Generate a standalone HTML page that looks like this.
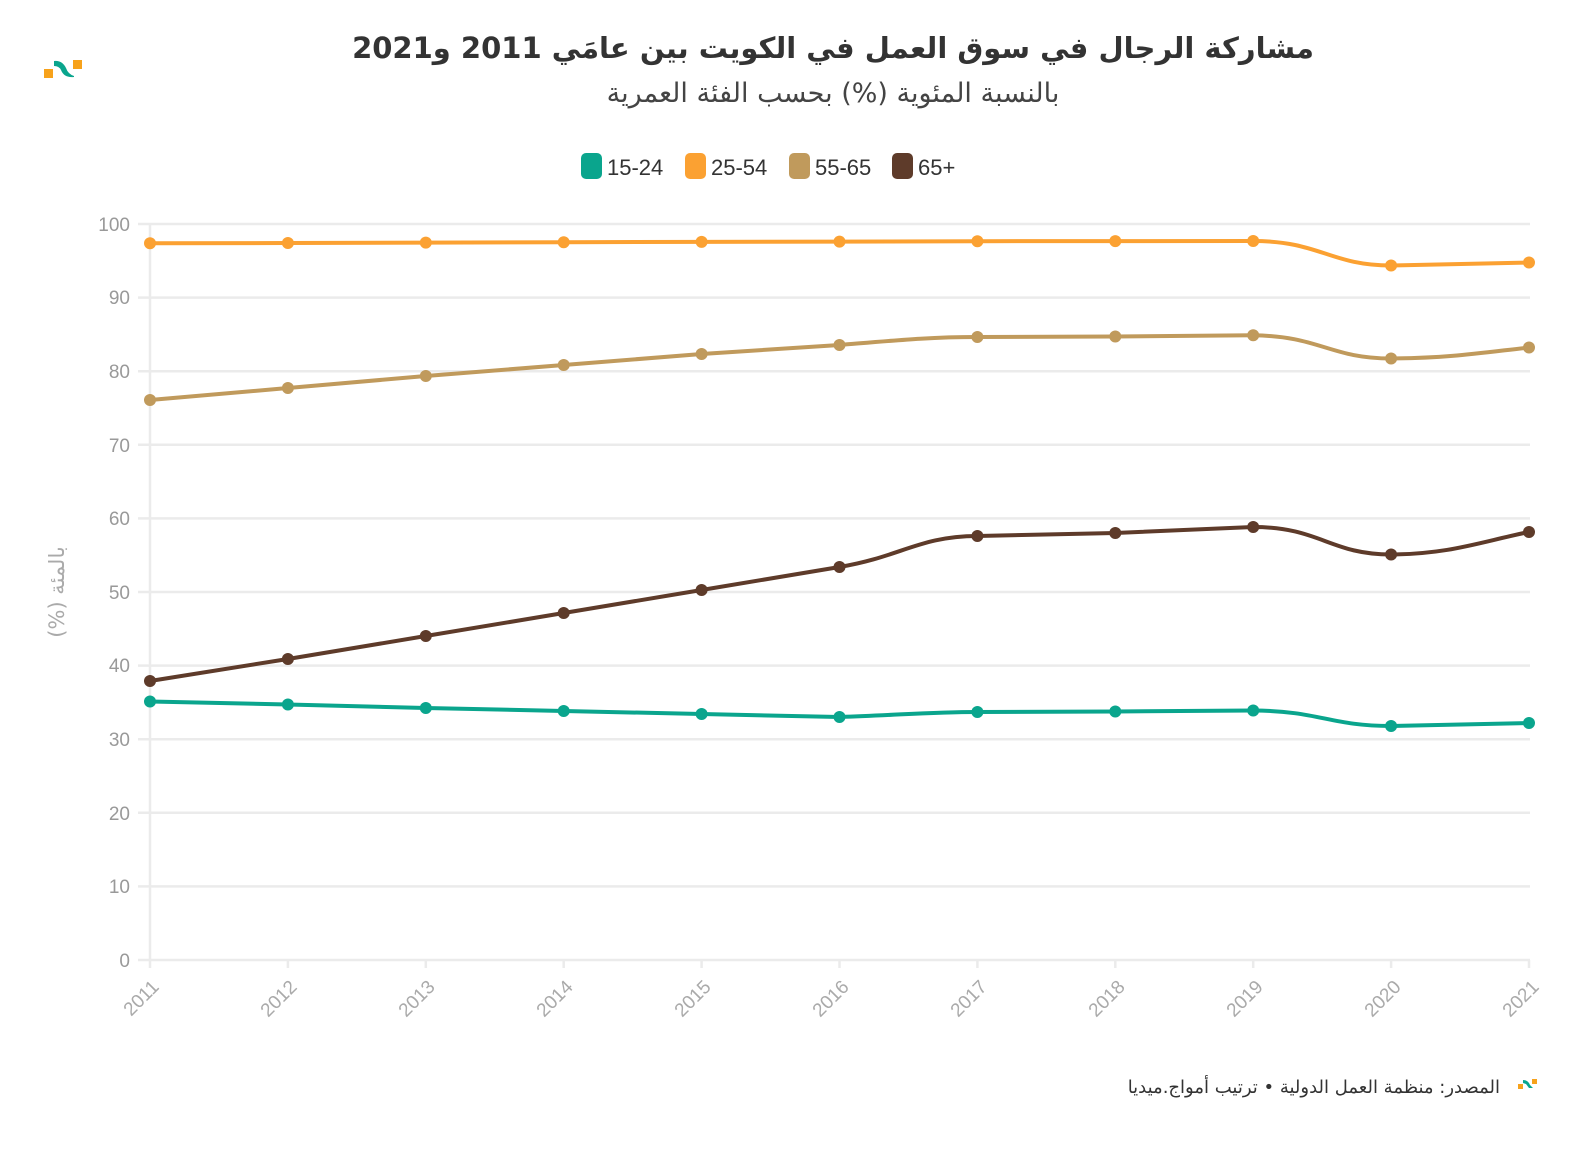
<!DOCTYPE html>
<html><head><meta charset="utf-8"><style>
body{margin:0;background:#fff;}
svg{display:block;font-family:"Liberation Sans","DejaVu Sans",sans-serif;}
</style></head><body>
<svg width="1592" height="1150" viewBox="0 0 1592 1150">
<!-- logo -->
<rect x="44" y="69" width="9" height="9" fill="#f7a21b"/>
<path d="M54 61 Q62 60 66 68 Q68 74 74 76 L74 77 Q64 78 61 70 Q59 66 54 66 Z" fill="#0aa58d"/>
<rect x="73" y="60" width="9" height="9" fill="#f7a21b"/>
<text x="833" y="58" text-anchor="middle" font-family="DejaVu Sans,sans-serif" font-weight="bold" font-size="29" fill="#333" direction="rtl">مشاركة الرجال في سوق العمل في الكويت بين عامَي 2011 و2021</text>
<text x="833" y="102" text-anchor="middle" font-family="DejaVu Sans,sans-serif" font-size="27" fill="#444" direction="rtl">بالنسبة المئوية (%) بحسب الفئة العمرية</text>
<!-- legend -->
<g font-size="22" fill="#333">
<rect x="581" y="153" width="21" height="26" rx="5" fill="#0aa58d"/><text x="607" y="175">15-24</text>
<rect x="685" y="153" width="21" height="26" rx="5" fill="#fba132"/><text x="711" y="175">25-54</text>
<rect x="789" y="153" width="21" height="26" rx="5" fill="#c09a5c"/><text x="815" y="175">55-65</text>
<rect x="892" y="153" width="21" height="26" rx="5" fill="#5e3b2a"/><text x="918" y="175">65+</text>
</g>
<!-- grid -->
<g stroke="#ebebeb" stroke-width="2.5">
<line x1="138" x2="1530" y1="224" y2="224"/><line x1="138" x2="1530" y1="297.6" y2="297.6"/>
<line x1="138" x2="1530" y1="371.2" y2="371.2"/><line x1="138" x2="1530" y1="444.8" y2="444.8"/>
<line x1="138" x2="1530" y1="518.4" y2="518.4"/><line x1="138" x2="1530" y1="592" y2="592"/>
<line x1="138" x2="1530" y1="665.6" y2="665.6"/><line x1="138" x2="1530" y1="739.2" y2="739.2"/>
<line x1="138" x2="1530" y1="812.8" y2="812.8"/><line x1="138" x2="1530" y1="886.4" y2="886.4"/>
<line x1="138" x2="1530" y1="960" y2="960"/>
<line x1="150" x2="150" y1="224" y2="968"/>
<line x1="287.9" x2="287.9" y1="960" y2="968"/><line x1="425.8" x2="425.8" y1="960" y2="968"/>
<line x1="563.7" x2="563.7" y1="960" y2="968"/><line x1="701.6" x2="701.6" y1="960" y2="968"/>
<line x1="839.5" x2="839.5" y1="960" y2="968"/><line x1="977.4" x2="977.4" y1="960" y2="968"/>
<line x1="1115.3" x2="1115.3" y1="960" y2="968"/><line x1="1253.2" x2="1253.2" y1="960" y2="968"/>
<line x1="1391.1" x2="1391.1" y1="960" y2="968"/><line x1="1529" x2="1529" y1="960" y2="968"/>
</g>
<g font-size="19" fill="#999" text-anchor="end">
<text x="130" y="231">100</text><text x="130" y="304">90</text><text x="130" y="378">80</text>
<text x="130" y="452">70</text><text x="130" y="525">60</text><text x="130" y="599">50</text>
<text x="130" y="672">40</text><text x="130" y="746">30</text><text x="130" y="820">20</text>
<text x="130" y="893">10</text><text x="130" y="967">0</text>
</g>
<g font-size="19" fill="#aaa" text-anchor="end">
<text transform="translate(160,988) rotate(-45)">2011</text>
<text transform="translate(298,988) rotate(-45)">2012</text>
<text transform="translate(436,988) rotate(-45)">2013</text>
<text transform="translate(574,988) rotate(-45)">2014</text>
<text transform="translate(712,988) rotate(-45)">2015</text>
<text transform="translate(850,988) rotate(-45)">2016</text>
<text transform="translate(988,988) rotate(-45)">2017</text>
<text transform="translate(1126,988) rotate(-45)">2018</text>
<text transform="translate(1264,988) rotate(-45)">2019</text>
<text transform="translate(1402,988) rotate(-45)">2020</text>
<text transform="translate(1540,988) rotate(-45)">2021</text>
</g>
<text transform="translate(64,592) rotate(-90)" text-anchor="middle" font-family="DejaVu Sans,sans-serif" font-size="21" fill="#aaa" direction="rtl">بالمئة (%)</text>
<!-- series -->
<g fill="none" stroke-width="4" stroke-linejoin="round" stroke-linecap="round">
<path stroke="#fba132" d="M150 243.3L287.9 243L425.8 242.6L563.7 242.2L701.6 241.9L839.5 241.6L977.4 241.2L1115.3 241.1L1253.2 241C1320 241 1330 265.5 1391.1 265.5L1529 262.5"/>
<path stroke="#c09a5c" d="M150 400L287.9 388L425.8 376L563.7 365L701.6 354L839.5 345C900 340 930 337 977.4 337L1115.3 336.5L1253.2 335.3C1320 336 1330 358.5 1391.1 358.5C1450 358 1480 353 1529 347.5"/>
<path stroke="#5e3b2a" d="M150 681L287.9 659L425.8 636L563.7 613L701.6 590L839.5 567C900 557 920 536 977.4 536L1115.3 533L1253.2 527C1320 527 1330 554.5 1391.1 554.5C1450 554 1480 542 1529 532"/>
<path stroke="#0aa58d" d="M150 701.5L287.9 704.5L425.8 708L563.7 711L701.6 714L839.5 717C900 715 930 712 977.4 712L1115.3 711.5L1253.2 710.5C1320 711 1330 726 1391.1 726L1529 723"/>
</g>
<g fill="#fba132"><circle cx="150" cy="243.3" r="6"/><circle cx="287.9" cy="243" r="6"/><circle cx="425.8" cy="242.6" r="6"/><circle cx="563.7" cy="242.2" r="6"/><circle cx="701.6" cy="241.9" r="6"/><circle cx="839.5" cy="241.6" r="6"/><circle cx="977.4" cy="241.2" r="6"/><circle cx="1115.3" cy="241.1" r="6"/><circle cx="1253.2" cy="241" r="6"/><circle cx="1391.1" cy="265.5" r="6"/><circle cx="1529" cy="262.5" r="6"/></g>
<g fill="#c09a5c"><circle cx="150" cy="400" r="6"/><circle cx="287.9" cy="388" r="6"/><circle cx="425.8" cy="376" r="6"/><circle cx="563.7" cy="365" r="6"/><circle cx="701.6" cy="354" r="6"/><circle cx="839.5" cy="345" r="6"/><circle cx="977.4" cy="337" r="6"/><circle cx="1115.3" cy="336.5" r="6"/><circle cx="1253.2" cy="335.3" r="6"/><circle cx="1391.1" cy="358.5" r="6"/><circle cx="1529" cy="347.5" r="6"/></g>
<g fill="#5e3b2a"><circle cx="150" cy="681" r="6"/><circle cx="287.9" cy="659" r="6"/><circle cx="425.8" cy="636" r="6"/><circle cx="563.7" cy="613" r="6"/><circle cx="701.6" cy="590" r="6"/><circle cx="839.5" cy="567" r="6"/><circle cx="977.4" cy="536" r="6"/><circle cx="1115.3" cy="533" r="6"/><circle cx="1253.2" cy="527" r="6"/><circle cx="1391.1" cy="554.5" r="6"/><circle cx="1529" cy="532" r="6"/></g>
<g fill="#0aa58d"><circle cx="150" cy="701.5" r="6"/><circle cx="287.9" cy="704.5" r="6"/><circle cx="425.8" cy="708" r="6"/><circle cx="563.7" cy="711" r="6"/><circle cx="701.6" cy="714" r="6"/><circle cx="839.5" cy="717" r="6"/><circle cx="977.4" cy="712" r="6"/><circle cx="1115.3" cy="711.5" r="6"/><circle cx="1253.2" cy="710.5" r="6"/><circle cx="1391.1" cy="726" r="6"/><circle cx="1529" cy="723" r="6"/></g>
<!-- footer -->
<text x="1500" y="1093" text-anchor="start" font-family="DejaVu Sans,sans-serif" font-size="18" fill="#333" direction="rtl">المصدر: منظمة العمل الدولية • ترتيب أمواج.ميديا</text>
<rect x="1518" y="1084" width="5" height="5" fill="#f7a21b"/>
<path d="M1523 1080 Q1528 1080 1530 1085 L1533 1088 L1529 1088 L1526 1084 L1523 1083Z" fill="#0aa58d"/>
<rect x="1532" y="1079" width="5" height="5" fill="#f7a21b"/>
</svg>
</body></html>
